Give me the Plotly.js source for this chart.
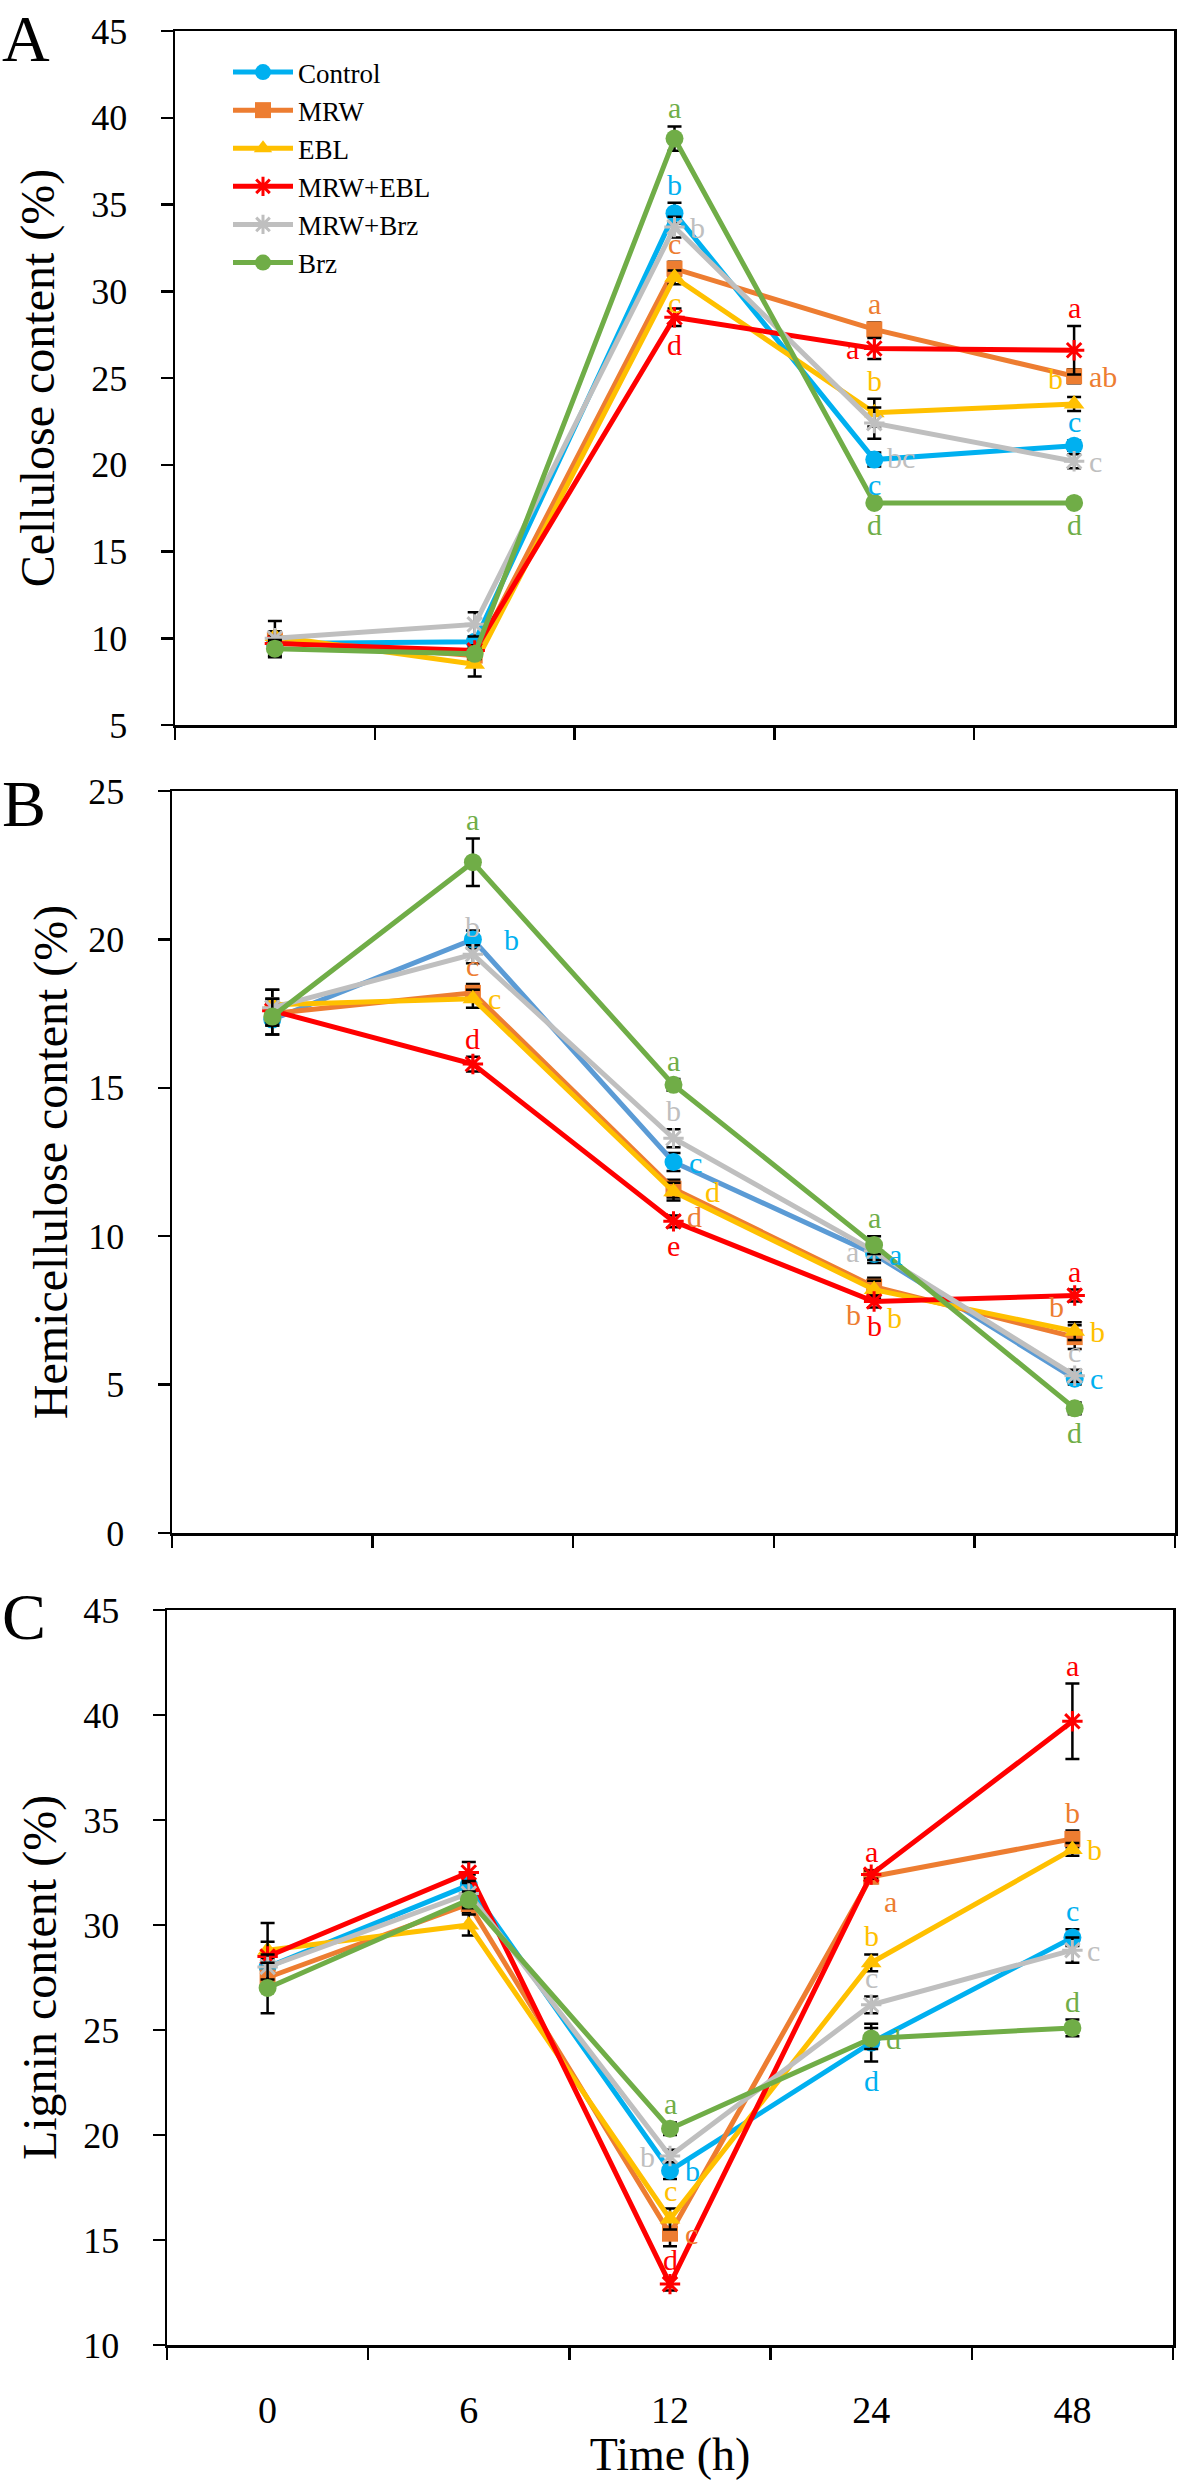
<!DOCTYPE html>
<html><head><meta charset="utf-8">
<script src="https://cdn.plot.ly/plotly-3.0.1.min.js"></script>
<style>body{margin:0;background:#fff}#chart{width:1180px;height:2480px}</style>
</head><body><div id="chart"></div>
<script>
// ---------------- DATA ----------------
const categories = ["0", "6", "12", "24", "48"];
const seriesNames = ["Control", "MRW", "EBL", "MRW+EBL", "MRW+Brz", "Brz"];

// Cellulose content (%) — rows follow seriesNames
const celluloseMean = [
  [9.7, 9.8, 34.5, 20.3, 21.1],
  [9.9, 9.0, 31.3, 27.8, 25.1],
  [10.1, 8.5, 30.8, 23.0, 23.5],
  [9.7, 9.3, 28.5, 26.7, 26.6],
  [10.0, 10.8, 33.7, 22.4, 20.2],
  [9.4, 9.1, 38.8, 17.8, 17.8]
];
const celluloseErr = [
  [0.3, 0.3, 0.6, 0.4, 0.3],
  [0.3, 0.3, 0.4, 0.4, 0.4],
  [0.3, 0.7, 0.4, 0.8, 0.4],
  [0.4, 0.3, 0.5, 0.6, 1.4],
  [1.0, 0.7, 0.6, 0.9, 0.4],
  [0.5, 0.3, 0.7, 0.2, 0.2]
];
const celluloseLetters = [
  ["", "", "b", "c", "c"],
  ["", "", "c", "a", "ab"],
  ["", "", "c", "b", "b"],
  ["", "", "d", "a", "a"],
  ["", "", "b", "bc", "c"],
  ["", "", "a", "d", "d"]
];

// Hemicellulose content (%)
const hemicelluloseMean = [
  [17.3, 20.0, 12.5, 9.4, 5.2],
  [17.5, 18.2, 11.6, 8.3, 6.6],
  [17.8, 18.0, 11.5, 8.2, 6.8],
  [17.6, 15.8, 10.5, 7.8, 8.0],
  [17.7, 19.5, 13.3, 9.5, 5.3],
  [17.4, 22.6, 15.1, 9.7, 4.2]
];
const hemicelluloseErr = [
  [0.5, 0.3, 0.3, 0.3, 0.2],
  [0.4, 0.3, 0.3, 0.3, 0.4],
  [0.5, 0.3, 0.3, 0.3, 0.3],
  [0.4, 0.25, 0.2, 0.2, 0.2],
  [0.6, 0.3, 0.3, 0.3, 0.2],
  [0.6, 0.8, 0.2, 0.3, 0.2]
];
const hemicelluloseLetters = [
  ["", "b", "c", "a", "c"],
  ["", "c", "d", "b", "b"],
  ["", "c", "d", "b", "b"],
  ["", "d", "e", "b", "a"],
  ["", "b", "b", "a", "c"],
  ["", "a", "a", "a", "d"]
];

// Lignin content (%)
const ligninMean = [
  [28.0, 31.9, 18.3, 24.4, 29.4],
  [27.5, 31.0, 15.3, 32.3, 34.1],
  [28.8, 30.0, 16.0, 28.2, 33.6],
  [28.5, 32.5, 12.9, 32.4, 39.7],
  [28.0, 31.5, 19.0, 26.2, 28.8],
  [27.0, 31.2, 20.3, 24.6, 25.1]
];
const ligninErr = [
  [0.5, 0.5, 0.4, 0.9, 0.4],
  [0.5, 0.4, 0.6, 0.3, 0.4],
  [0.4, 0.5, 0.5, 0.4, 0.3],
  [1.6, 0.5, 0.3, 0.2, 1.8],
  [0.6, 0.6, 0.3, 0.4, 0.6],
  [1.2, 0.4, 0.3, 0.5, 0.4]
];
const ligninLetters = [
  ["", "", "b", "d", "c"],
  ["", "", "c", "a", "b"],
  ["", "", "c", "b", "b"],
  ["", "", "d", "a", "a"],
  ["", "", "b", "c", "c"],
  ["", "", "a", "d", "d"]
];

const panelLabels = ["A", "B", "C"];
const yTitles = ["Cellulose content (%)", "Hemicellulose content (%)", "Lignin content (%)"];
const xTitle = "Time (h)";

// ---------------- PLACEMENT / STYLE ----------------
const celluloseLetterPos = [
  ["", "", "t", "b", "t"],
  ["", "", "t", "t", "r"],
  ["", "", "b", "t", "tl"],
  ["", "", "b", "l", "t"],
  ["", "", "r", "br", "r"],
  ["", "", "t", "b", "b"]
];
const hemicelluloseLetterPos = [
  ["", "rr", "r", "r", "r"],
  ["", "t", "br", "bl", "tl"],
  ["", "r", "rr", "br", "r"],
  ["", "t", "b", "b", "t"],
  ["", "t", "t", "l", "t"],
  ["", "t", "t", "t", "b"]
];
const ligninLetterPos = [
  ["", "", "r", "b", "t"],
  ["", "", "r", "br", "t"],
  ["", "", "t", "t", "r"],
  ["", "", "t", "t", "t"],
  ["", "", "l", "t", "r"],
  ["", "", "t", "r", "t"]
];

const colors = ["#00B0F0", "#ED7D31", "#FFC000", "#FF0000", "#BFBFBF", "#70AD47"];
const lineColorsB = ["#5B9BD5", "#ED7D31", "#FFC000", "#FF0000", "#BFBFBF", "#70AD47"];
const symbols = ["circle", "square", "triangle-up", "asterisk-open", "asterisk-open", "circle"];
const msizes = [18, 16, 18, 17, 17, 18];

const FONT = "Liberation Serif";
const W = 1180, H = 2480;
// pixel boxes of the three plot areas [x0, x1, yTop, yBottom]
const boxes = [[175, 1174, 31, 725], [172, 1175, 791, 1533], [167, 1173, 1610, 2345]];
const yRanges = [[5, 45], [0, 25], [10, 45]];
const yTitleStandoff = [22, 6, 12];
const panelLetterTop = [[0, 0], [0, 765], [0, 1578]];

const panels = [
  {mean: celluloseMean, err: celluloseErr, letters: celluloseLetters, pos: celluloseLetterPos, lc: colors},
  {mean: hemicelluloseMean, err: hemicelluloseErr, letters: hemicelluloseLetters, pos: hemicelluloseLetterPos, lc: lineColorsB},
  {mean: ligninMean, err: ligninErr, letters: ligninLetters, pos: ligninLetterPos, lc: colors}
];

const traces = [];
const annotations = [];
const shiftMap = {
  t: {xs: 0, ys: 1, xa: "center", ya: "bottom"},
  b: {xs: 0, ys: -1, xa: "center", ya: "top"},
  r: {xs: 14, ys: 0, xa: "left", ya: "middle"},
  rr: {xs: 30, ys: 0, xa: "left", ya: "middle"},
  l: {xs: -14, ys: 0, xa: "right", ya: "middle"},
  tr: {xs: 10, ys: 1, xa: "left", ya: "bottom"},
  tl: {xs: -10, ys: 1, xa: "right", ya: "bottom"},
  br: {xs: 12, ys: -1, xa: "left", ya: "top"},
  bl: {xs: -12, ys: -1, xa: "right", ya: "top"}
};

panels.forEach((p, pi) => {
  const xa = pi === 0 ? "x" : "x" + (pi + 1);
  const ya = pi === 0 ? "y" : "y" + (pi + 1);
  seriesNames.forEach((name, si) => {
    const isLineSym = symbols[si].indexOf("asterisk") >= 0;
    traces.push({
      type: "scatter", mode: "lines+markers",
      x: categories, y: p.mean[si],
      xaxis: xa, yaxis: ya,
      name: name, showlegend: pi === 0,
      line: {color: p.lc[si], width: 5},
      marker: {symbol: symbols[si], size: msizes[si], color: colors[si],
               line: {color: colors[si], width: isLineSym ? 3 : 0}},
      error_y: {type: "data", array: p.err[si], visible: true, color: "#000", thickness: 2.5, width: 7}
    });
    p.letters[si].forEach((txt, ti) => {
      if (!txt) return;
      const code = p.pos[si][ti];
      const s = shiftMap[code];
      let yv = p.mean[si][ti];
      if (code.charAt(0) === "t") yv += p.err[si][ti];
      if (code.charAt(0) === "b") yv -= p.err[si][ti];
      annotations.push({
        xref: xa, yref: ya, x: ti, y: yv,
        text: txt, showarrow: false, xanchor: s.xa, yanchor: s.ya,
        xshift: s.xs, yshift: s.ys, borderpad: 0,
        font: {family: FONT, size: 30, color: colors[si]}
      });
    });
  });
  annotations.push({
    xref: "paper", yref: "paper", x: panelLetterTop[pi][0] / W, y: 1 - panelLetterTop[pi][1] / H,
    xanchor: "left", yanchor: "top", showarrow: false, text: panelLabels[pi],
    font: {family: FONT, size: 66, color: "#000"}
  });
});

const layout = {
  width: W, height: H,
  margin: {l: 0, r: 0, t: 0, b: 0},
  paper_bgcolor: "#fff", plot_bgcolor: "#fff",
  font: {family: FONT, color: "#000"},
  showlegend: true,
  legend: {x: 228 / W, y: 1 - 48 / H, xanchor: "left", yanchor: "top",
           bgcolor: "rgba(0,0,0,0)", font: {family: FONT, size: 27, color: "#000"},
           itemwidth: 60, tracegroupgap: 0},
  annotations: annotations
};

boxes.forEach((b, i) => {
  const sx = i === 0 ? "" : String(i + 1);
  const yname = "y" + sx;
  const xname = "x" + sx;
  layout["xaxis" + sx] = {
    domain: [b[0] / W, b[1] / W], anchor: yname,
    type: "category", tickson: "boundaries",
    range: [-0.5, categories.length - 0.5], autorange: false,
    showline: true, linecolor: "#000", linewidth: 2.5, mirror: true,
    ticks: "outside", ticklen: 12, tickwidth: 2.5, tickcolor: "#000",
    showgrid: false, zeroline: false,
    showticklabels: i === 2,
    tickfont: {family: FONT, size: 38, color: "#000"},
    ticklabelstandoff: 30,
    title: i === 2 ? {text: xTitle, font: {family: FONT, size: 46, color: "#000"}, standoff: 0} : {text: ""}
  };
  layout["yaxis" + sx] = {
    domain: [1 - b[3] / H, 1 - b[2] / H], anchor: xname,
    range: yRanges[i], dtick: 5, tick0: 0, autorange: false,
    showline: true, linecolor: "#000", linewidth: 2.5, mirror: true,
    ticks: "outside", ticklen: 12, tickwidth: 2.5, tickcolor: "#000",
    showgrid: false, zeroline: false,
    tickfont: {family: FONT, size: 36, color: "#000"},
    ticklabelstandoff: 26,
    title: {text: yTitles[i], font: {family: FONT, size: 48, color: "#000"}, standoff: yTitleStandoff[i]}
  };
});

Plotly.newPlot("chart", traces, layout, {displayModeBar: false, staticPlot: true});
</script>
</body></html>
